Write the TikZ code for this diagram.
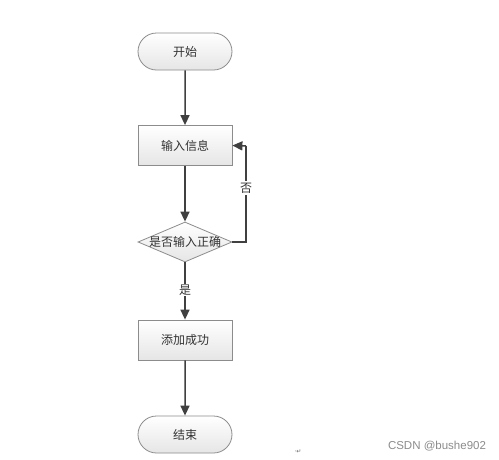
\documentclass[tikz,border=0pt]{standalone}
\usepackage{fontspec}
\setmainfont{Liberation Sans}
\newfontfamily\cjk{Noto Sans CJK SC}
\newfontfamily\djv{DejaVu Sans}
\usetikzlibrary{shapes.geometric,shapes.misc,arrows.meta}
\definecolor{bordergray}{HTML}{8C8C8C}
\definecolor{arrowgray}{HTML}{404040}
\tikzset{
  x=1pt,y=-1pt,
  txt/.style={font=\cjk\fontsize{12}{14}\selectfont,text=black!80},
  base/.style={draw=bordergray,line width=0.8pt,top color=white,bottom color=black!10,
    txt,inner sep=0pt},
  terminal/.style={base,rounded rectangle,minimum width=94pt,minimum height=37pt},
  procbox/.style={base,rectangle,minimum width=94pt,minimum height=40pt},
  decision/.style={base,diamond,aspect=2.35,minimum width=94pt,minimum height=40pt},
  flow/.style={draw=arrowgray,line width=1.5pt,-{Triangle[length=10pt,width=9pt]}},
  lbl/.style={fill=white,inner sep=1pt,txt}
}
\begin{document}
\begin{tikzpicture}
\useasboundingbox (0,0) rectangle (499,459);
\fill[white] (0,0) rectangle (499,459);
\node[terminal] (start) at (185,51.5) {开始};
\node[procbox] (input) at (185,145.5) {输入信息};
\node[decision] (check) at (185,242) {};
\node[txt,inner sep=0pt] (checktext) at (check.center) {是否输入正确};
\node[procbox] (ok) at (185,340) {添加成功};
\node[terminal] (end) at (185,434.5) {结束};
\coordinate (back) at (246,242);
\coordinate (backtop) at (246,146);
\draw[flow] (start) -- (input);
\draw[flow] (input) -- (check);
\draw[flow] (check) -- node[lbl,pos=0.48] {是} (ok);
\draw[flow] (ok) -- (end);
\draw[draw=arrowgray,line width=1.5pt] (check.east) -- (back) -- (backtop);
\draw[flow] (backtop) -- (input.east);
\node[lbl,inner sep=2pt] (no) at (246,188) {否};
\node[font=\djv\fontsize{6}{7}\selectfont,text=black!60,inner sep=0pt] (mark) at (298,452) {·↵};
\node[font=\fontsize{11.5}{13}\selectfont,text=black!45,inner sep=0pt] (wm) at (437,446) {CSDN @bushe902};
\end{tikzpicture}
\end{document}
